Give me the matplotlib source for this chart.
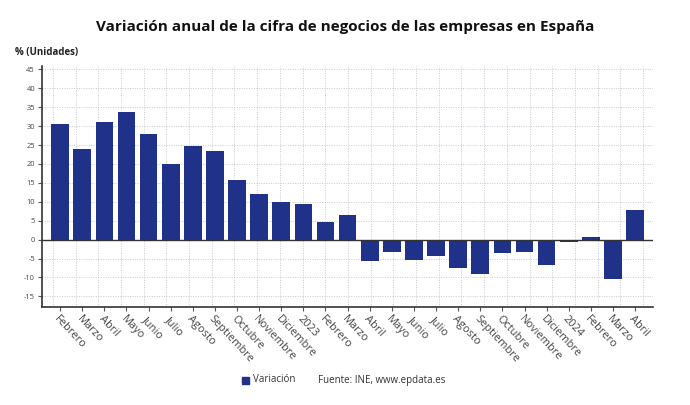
import matplotlib
matplotlib.use("Agg")
import matplotlib.pyplot as plt
import numpy as np

categories = ["Febrero", "Marzo", "Abril", "Mayo", "Junio", "Julio", "Agosto",
              "Septiembre", "Octubre", "Noviembre", "Diciembre", "2023",
              "Febrero", "Marzo", "Abril", "Mayo", "Junio", "Julio", "Agosto",
              "Septiembre", "Octubre", "Noviembre", "Diciembre", "2024",
              "Febrero", "Marzo", "Abril"]
values = [30.5, 23.9, 31.1, 33.8, 27.9, 20.0, 24.7, 23.4, 15.8, 12.1, 9.9, 9.5,
          4.6, 6.5, -5.6, -3.2, -5.3, -4.2, -7.5, -9.2, -3.6, -3.2, -6.7, -0.5,
          0.8, -10.5, 7.8]
yticks = list(range(-15, 50, 5))

plt.rcParams['font.family'] = ['Open Sans', 'DejaVu Sans']

fig = plt.figure(figsize=(6.9, 4.05), dpi=100)
ax = fig.add_axes([42/690, 1-307/405, (653-42)/690, (307-66)/405])

x = np.arange(len(values))
ax.bar(x, values, width=0.8, color='#1f3189', zorder=3)
ax.axhline(0, color='#333333', lw=1.0, zorder=4)

ax.set_xlim(-0.82, len(values) - 1 + 0.81)
ax.set_ylim(-17.8, 45.9)

ax.set_yticks(yticks)
ax.set_yticklabels([str(v) for v in yticks], fontsize=5.4, color='#444444')
ax.set_xticks(x)
ax.set_xticklabels(categories, rotation=-47, ha='left', va='top',
                   rotation_mode='anchor', fontsize=7.9, color='#444444')
ax.tick_params(axis='x', length=3, color='#555555', pad=2)
ax.tick_params(axis='y', length=3, color='#555555', pad=2)

# grid
for yv in yticks:
    ax.axhline(yv, color='#c8c8d2', lw=0.7, ls=(0, (1, 1.5)), zorder=1)
for gx in np.linspace(-0.33, 26.36, 27):
    ax.axvline(gx, color='#c8c8d2', lw=0.7, ls=(0, (1, 1.5)), zorder=1)

for s in ['top', 'right']:
    ax.spines[s].set_visible(False)
for s in ['left', 'bottom']:
    ax.spines[s].set_color('#333333')
    ax.spines[s].set_linewidth(1.2)

fig.text(0.5, 1-27/405, "Variación anual de la cifra de negocios de las empresas en España",
         ha='center', va='center', fontsize=11, fontweight='bold', color='#111111')
fig.text(15/690, 1-53/405, "% (Unidades)", ha='left', va='center', fontsize=7,
         fontweight='bold', color='#222222')

fig.patches.append(plt.Rectangle((242/690, 1-384/405), 7/690, 7/405,
                                 transform=fig.transFigure, color='#1f3189'))
fig.text(253/690, 1-380/405, "Variación", ha='left', va='center', fontsize=7, color='#333333')
fig.text(318/690, 1-380/405, "Fuente: INE, www.epdata.es", ha='left', va='center',
         fontsize=7, color='#333333')

fig.savefig("out.png", dpi=100, facecolor='white')
